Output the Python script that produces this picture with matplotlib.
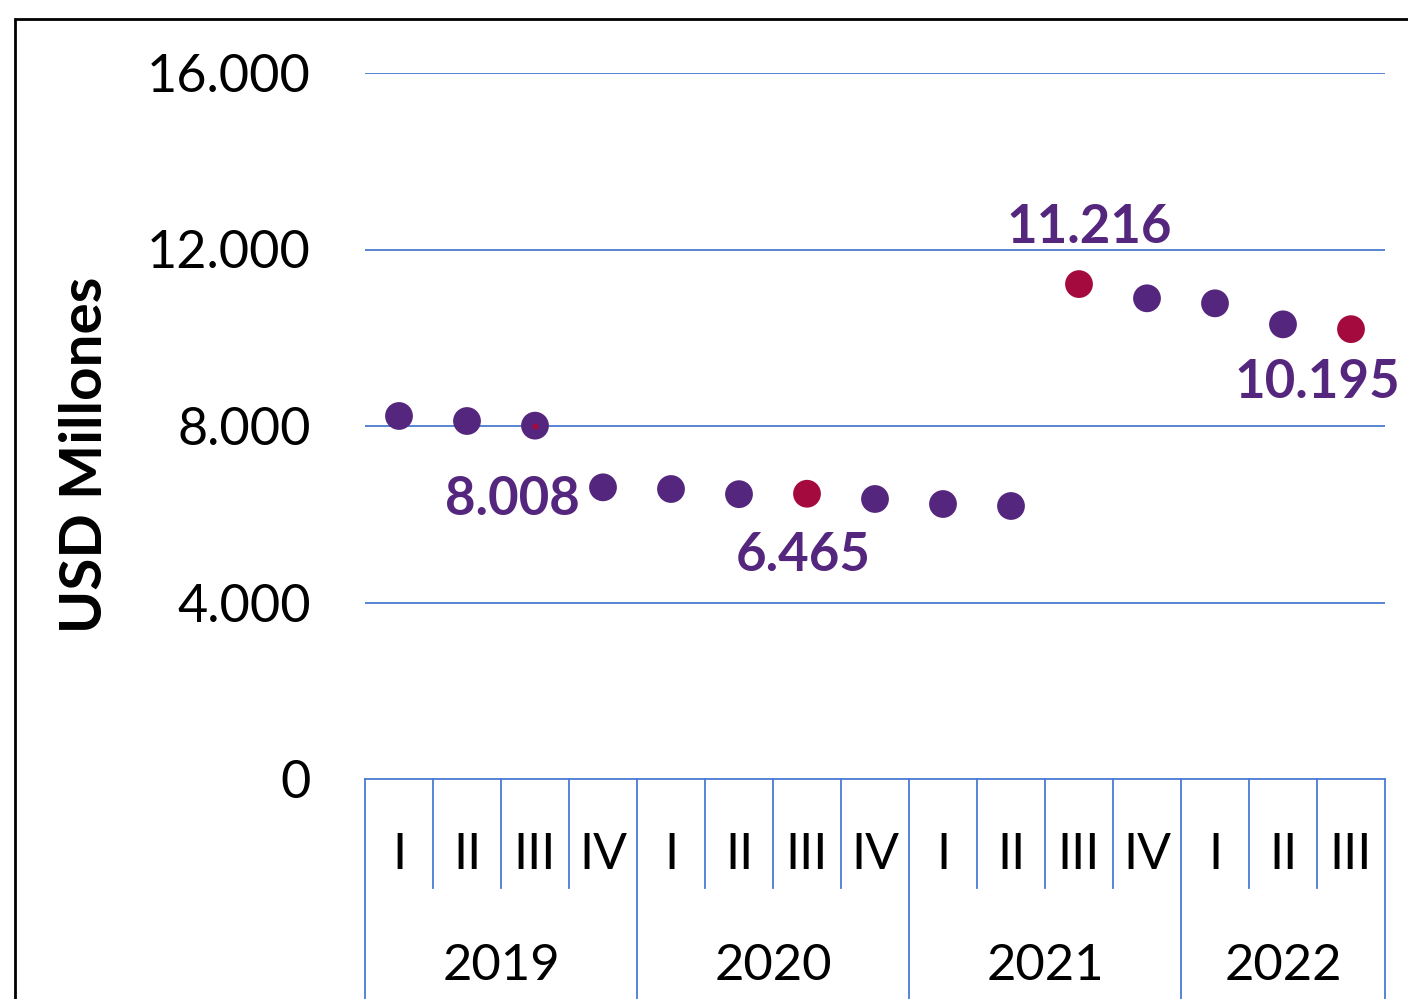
import matplotlib.pyplot as plt
from matplotlib.patches import Rectangle

quarters = ['I', 'II', 'III', 'IV', 'I', 'II', 'III', 'IV', 'I', 'II', 'III', 'IV', 'I', 'II', 'III']
years = ['2019', '2020', '2021', '2022']
year_counts = [4, 4, 4, 3]
values = [8227, 8113, 8008, 6610, 6572, 6455, 6465, 6346, 6232, 6187, 11216, 10894, 10780, 10304, 10195]
highlight = [6, 10, 14]
labeled = [2, 6, 10, 14]
yticks = [0, 4000, 8000, 12000, 16000]

purple = '#55267D'
red = '#A50A3E'
blue = '#4A7BD0'

plt.rcParams['font.family'] = ['Lato', 'DejaVu Sans']

fig = plt.figure(figsize=(14.08, 9.99), dpi=100)
ax = fig.add_axes([365 / 1408, 1 - 779 / 999, 1020 / 1408, 706 / 999])

x = list(range(len(values)))
colors = [red if i in highlight else purple for i in x]
ax.scatter(x, values, s=400, c=colors, zorder=3, linewidths=0)
# small red centre on the 8.008 marker
ax.scatter([x[2]], [values[2]], s=18, c=red, zorder=4, linewidths=0)

ax.set_xlim(-0.5, len(values) - 0.5)
ax.set_ylim(0, 16000)
ax.set_yticks(yticks)
ax.set_yticklabels([f'{v:,}'.replace(',', '.') for v in yticks], fontsize=37.5)
ax.tick_params(axis='y', length=0, pad=39)
ax.set_xticks([])
for y in yticks[1:]:
    ax.axhline(y, color=blue, lw=1.3, zorder=1)
for s in ['top', 'right', 'left']:
    ax.spines[s].set_visible(False)
ax.spines['bottom'].set_color(blue)
ax.spines['bottom'].set_linewidth(1.3)

ax.set_ylabel('USD Millones', fontsize=42, fontweight='bold')
ax.yaxis.set_label_coords(-0.248, 0.459)

# category axis (quarters and years)
tr = ax.get_xaxis_transform()
for i, q in enumerate(quarters):
    ax.text(i, -0.108, q, transform=tr, ha='center', va='center', fontsize=36)
start = 0
year_edges = [-0.5]
for yr, n in zip(years, year_counts):
    ax.text(start + (n - 1) / 2, -0.265, yr, transform=tr, ha='center', va='center', fontsize=36.5)
    start += n
    year_edges.append(start - 0.5)
for k in range(len(quarters) + 1):
    b = k - 0.5
    y_end = -0.32 if b in year_edges else -0.155
    ax.plot([b, b], [0, y_end], transform=tr, color=blue, lw=1.3, clip_on=False)

# data labels
offsets = {2: (-0.33, -1680), 6: (-0.05, -1400), 10: (0.15, 1290), 14: (-0.5, -1210)}
for i in labeled:
    dx, dy = offsets[i]
    ax.text(i + dx, values[i] + dy, f'{values[i]:,}'.replace(',', '.'), ha='center', va='center',
            fontsize=38, fontweight='bold', color=purple)

fig.patches.append(Rectangle((15 / 1408, -0.1), 1.2, 1.1 - 19 / 999, transform=fig.transFigure,
                             fill=False, edgecolor='black', lw=2, clip_on=False))

fig.savefig('out.png', dpi=100)
